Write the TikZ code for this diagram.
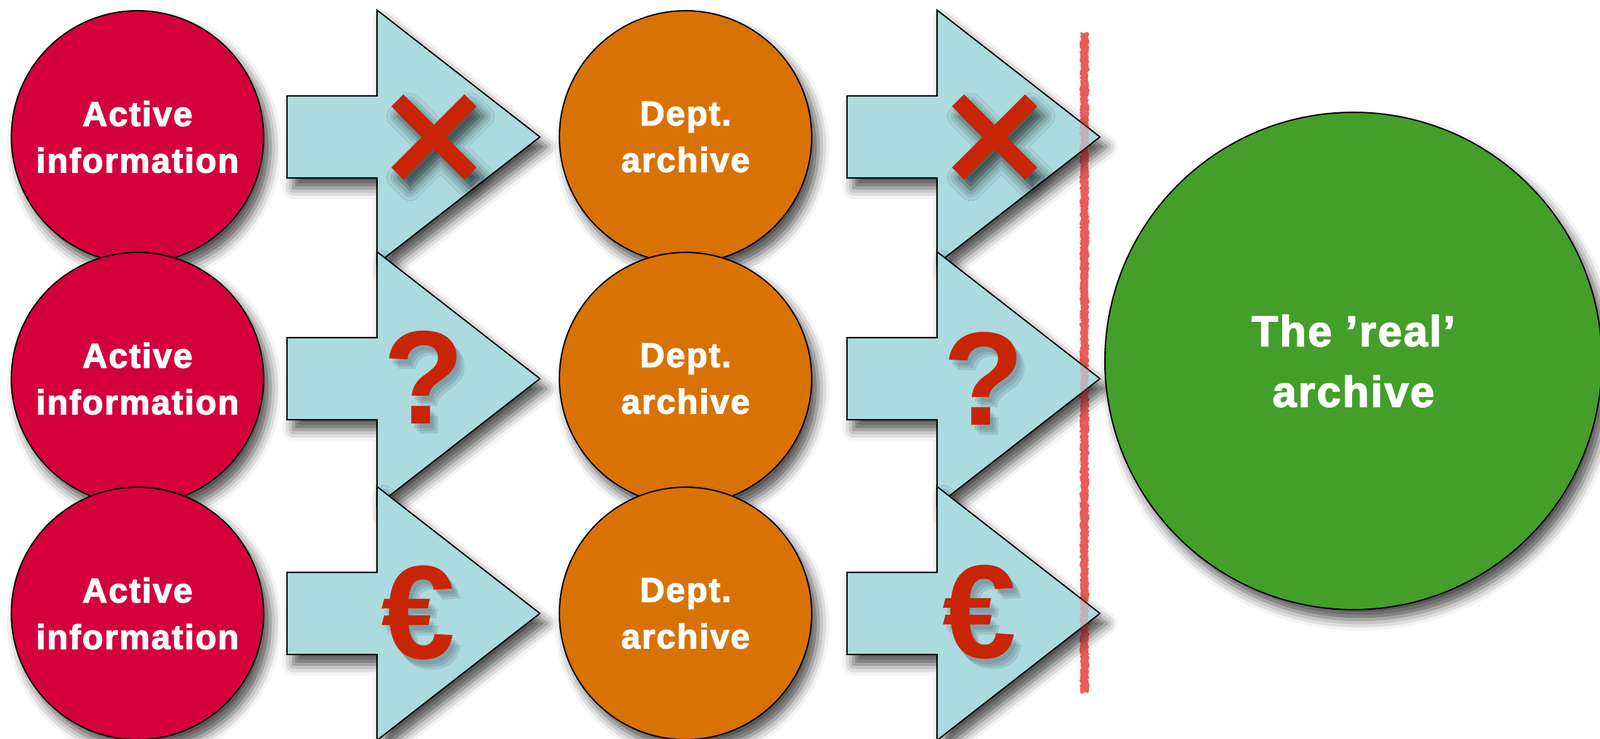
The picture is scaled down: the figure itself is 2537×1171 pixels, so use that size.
\documentclass[tikz,border=0pt]{standalone}
\usepackage{fontspec}
\usetikzlibrary{shapes.arrows,shadows.blur,decorations.pathmorphing}

\newfontfamily\labelfont{Liberation Sans}[UprightFont={* Bold},LetterSpace=4,FakeBold=2.5]
\newfontfamily\signfont{Liberation Sans}[UprightFont={* Bold}]

\definecolor{infored}{RGB}{211,0,60}
\definecolor{deptorange}{RGB}{217,114,5}
\definecolor{realgreen}{RGB}{68,158,42}
\definecolor{arrowblue}{RGB}{171,218,223}
\definecolor{signred}{RGB}{200,37,6}
\definecolor{cutred}{RGB}{234,92,90}
\definecolor{shadowgrey}{RGB}{40,45,60}

\tikzset{
    soft shadow/.style={blur shadow={shadow xshift=3pt, shadow yshift=-4.5pt, shadow blur radius=5pt, shadow opacity=70}},
    disc/.style={circle, draw=black, line width=0.6pt, inner sep=0pt, minimum size=40mm, soft shadow, text=white, align=center, font=\labelfont\fontsize{15.5}{21}\selectfont},
    info/.style={disc, fill=infored},
    dept/.style={disc, fill=deptorange},
    realarch/.style={disc, fill=realgreen, minimum size=78.8mm, font=\labelfont\fontsize{19.5}{27.3}\selectfont},
    flow/.style={single arrow, draw=black, line width=0.6pt, fill=arrowblue, soft shadow, inner sep=0pt, text height=12.8mm, text depth=0pt, minimum height=40.1mm, single arrow head extend=13.6mm, single arrow tip angle=75.8, anchor=tail},
    sign/.style={text=signred, inner sep=0pt, font=\signfont\fontsize{60}{60}\selectfont},
    signshade/.style={sign, text=shadowgrey, opacity=0.12},
    cutline/.style={fill=cutred, decorate, decoration={random steps, segment length=0.8pt, amplitude=0.5pt}},
}

\newcommand\crossmark[2]{\fill[signred, soft shadow, shift={(#1,#2)}] (48.4,67.5) -- (0,19.1) -- (-48.4,67.5) -- (-67.5,48.4) -- (-19.1,0) -- (-67.5,-48.4) -- (-48.4,-67.5) -- (0,-19.1) -- (48.4,-67.5) -- (67.5,-48.4) -- (19.1,0) -- (67.5,48.4) -- cycle;}

\begin{document}
\begin{tikzpicture}[x=0.1mm, y=-0.1mm]
    \useasboundingbox (0,0) rectangle (2537,1171);

    \path[cutline] (1713,52) rectangle (1726,1098);

    \foreach \r/\y in {1/217,2/600,3/972}{
        \node[info] (info\r) at (218,\y) {Active\\information};
        \node[flow] (flowa\r) at (454,\y) {};
        \node[dept] (dept\r) at (1087,\y) {Dept.\\archive};
        \node[flow] (flowb\r) at (1342,\y) {};
    }

    \node[realarch] (real) at (2146,572) {The ’real’\\archive};

    % what stops the flow
    \crossmark{688}{217}
    \crossmark{1577}{217}
    \foreach \s/\x/\y/\t in {quest1/672/598/?, quest2/1560/600/?, euro1/663/971/€, euro2/1553/970/€}{
        \foreach \d in {0,4,8}
            \node[signshade] at (\x+5+\d,\y+8+\d) {\t};
        \node[sign] (\s) at (\x,\y) {\t};
    }

    \path[cutline, opacity=0.3] (1713,52) rectangle (1726,1098);
\end{tikzpicture}
\end{document}
